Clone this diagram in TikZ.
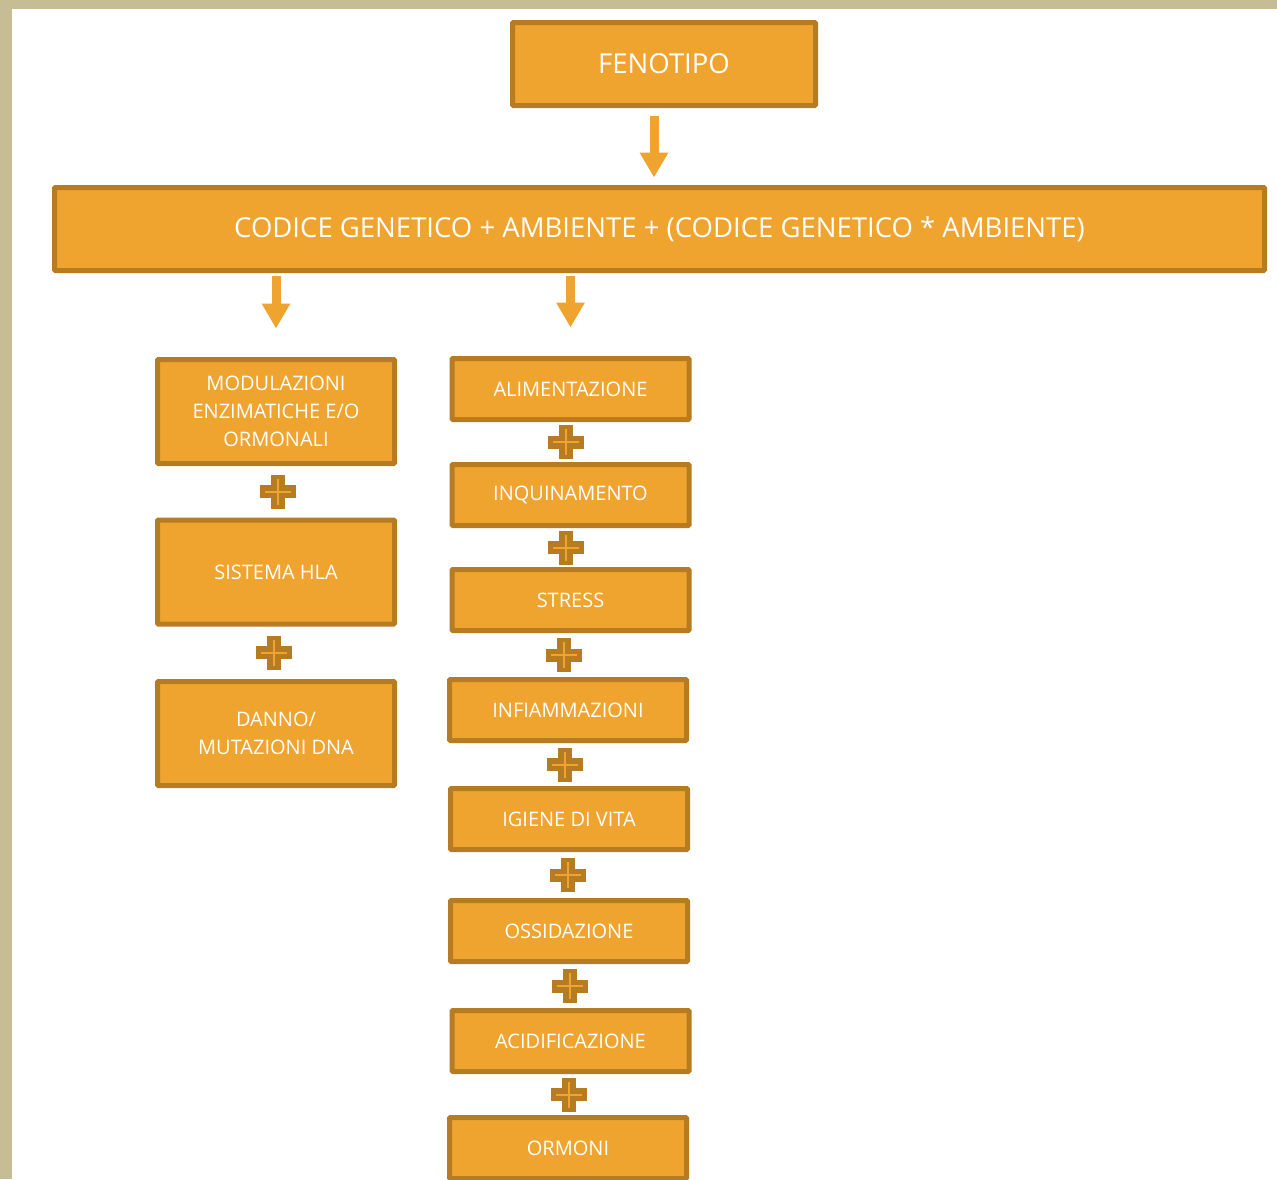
\documentclass[tikz,border=0pt]{standalone}
\usepackage{fontspec}
\setmainfont{Open Sans}
\usetikzlibrary{arrows.meta,positioning}
\definecolor{boxfill}{HTML}{F0A430}
\definecolor{boxline}{HTML}{B77B22}
\definecolor{pageframe}{HTML}{C7BD95}

\begin{document}
\begin{tikzpicture}[x=1pt,y=-1pt,
    box/.style={draw=boxline, fill=boxfill, line width=5pt, rounded corners=1pt,
      inner sep=0pt, text=white, align=center},
    smallbox/.style={box, minimum width=237pt, minimum height=61pt,
      font=\fontsize{20}{28}\selectfont},
    tallbox/.style={box, minimum width=237pt, minimum height=104pt,
      font=\fontsize{20}{28}\selectfont},
    down/.style={draw=boxfill, line width=9pt, -{Triangle[length=25pt,width=27pt]}},
    plusmark/.pic={
      \fill[boxline] (-7,-17) rectangle (7,17);
      \fill[boxline] (-18,-6.5) rectangle (18,6.5);
      \draw[boxfill, line width=2pt] (-13,0) -- (13,0) (0,-13) -- (0,13);
    }]
    \useasboundingbox (0,0) rectangle (1277,1179);
    % page frame
    \fill[pageframe] (0,0) rectangle (1277,1179);
    \fill[white] (12,9) rectangle (1277,1179);

    % top boxes
    \node[box, minimum width=303pt, minimum height=83pt,
      font=\fontsize{27.5}{32}\selectfont] (feno) at (664,64) {FENOTIPO};
    \node[box, minimum width=1210pt, minimum height=83pt,
      font=\fontsize{27.5}{32}\selectfont] (codice) at (659.5,229)
      {CODICE GENETICO + AMBIENTE + (CODICE GENETICO * AMBIENTE)};

    % left column
    \node[tallbox] (modul) at (276,411.5) {MODULAZIONI\\ENZIMATICHE E/O\\ORMONALI};
    \node[tallbox] (hla) at (276,572) {SISTEMA HLA};
    \node[tallbox] (danno) at (276,733.5) {DANNO/\\MUTAZIONI DNA};

    % right column
    \foreach \nm/\x/\y/\txt in {alim/570.5/389/ALIMENTAZIONE, inq/570.5/495/INQUINAMENTO,
        stress/570.5/600/STRESS, infiam/568/710/INFIAMMAZIONI, igiene/569/819/IGIENE DI VITA,
        oss/569/931/OSSIDAZIONE, acid/570.5/1041/ACIDIFICAZIONE, ormoni/568/1148/ORMONI}{%
        \node[smallbox] (\nm) at (\x,\y) {\txt};
    }

    % plus signs between boxes
    \foreach \a/\b/\dx in {modul/hla/2, hla/danno/-2, alim/inq/-5, inq/stress/-5, stress/infiam/-5,
        infiam/igiene/-4, igiene/oss/-1, oss/acid/0, acid/ormoni/0}{%
        \path ([xshift=\dx pt]\a.south) -- ([xshift=\dx pt]\b.north) pic[midway] {plusmark};
    }

    % arrows
    \draw[down] ([xshift=-10pt,yshift=-7.5pt]feno.south) -- ([xshift=-10pt,yshift=7.5pt]feno.south |- codice.north);
    \draw[down] ([yshift=-2.5pt]codice.south -| modul.north) -- ([yshift=28.5pt]modul.north);
    \draw[down] ([yshift=-2.5pt]codice.south -| alim.north) -- ([yshift=28.5pt]alim.north);
\end{tikzpicture}
\end{document}
